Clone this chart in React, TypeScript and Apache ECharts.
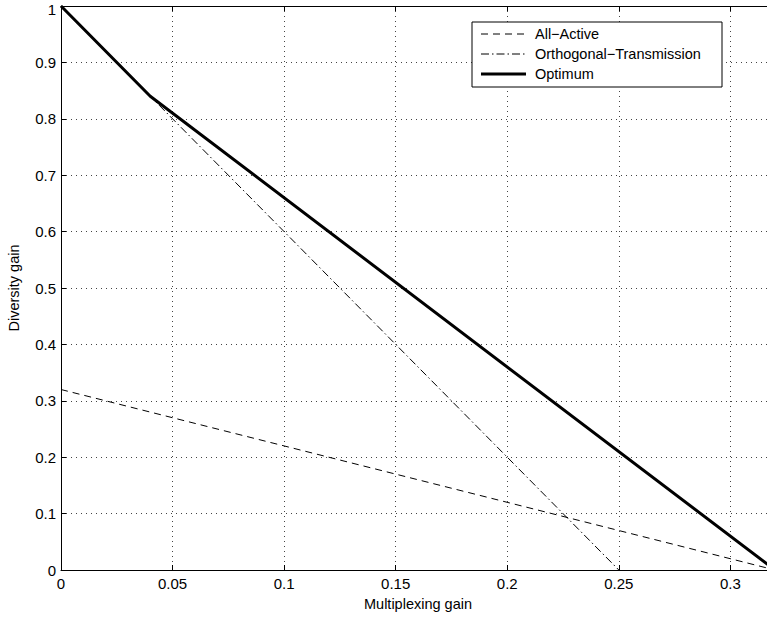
import React, { useEffect, useRef } from "react";
import * as echarts from "echarts";

// Diversity–multiplexing tradeoff curves
const allActiveR = [0, 0.32];
const allActiveD = [0.32, 0];
const orthogonalR = [0, 0.25];
const orthogonalD = [1, 0];
const optimumR = [0, 0.04, 0.32];
const optimumD = [1, 0.84, 0];

const xTicks = [0, 0.05, 0.1, 0.15, 0.2, 0.25, 0.3];
const yTicks = [0, 0.1, 0.2, 0.3, 0.4, 0.5, 0.6, 0.7, 0.8, 0.9, 1];

const legendNames = ["All\u2212Active", "Orthogonal\u2212Transmission", "Optimum"];

const FONT = "'Liberation Sans', Arial, Helvetica, sans-serif";
const DASH = [7, 5];
const DASH_DOT = [8, 3, 1.5, 3];

const pairs = (xs: number[], ys: number[]) => xs.map((x, i) => [x, ys[i]]);

export default function App() {
  const ref = useRef<HTMLDivElement>(null);

  useEffect(() => {
    if (!ref.current) return;
    const chart = echarts.init(ref.current, undefined, { renderer: "svg" });

    const gridLine = { show: true, lineStyle: { color: "#444", type: [1, 4], width: 1 } };
    const tickText = { color: "#000", fontFamily: FONT, fontSize: 15 };
    const nameText = { color: "#000", fontFamily: FONT, fontSize: 14.5 };

    const lx = 472;
    const ly = 22;
    const rowY = [34, 54, 74];
    const legendStyles = [
      { lineWidth: 1, lineDash: DASH },
      { lineWidth: 1, lineDash: DASH_DOT },
      { lineWidth: 3, lineDash: null as any },
    ];

    const yMax = yTicks[yTicks.length - 1];

    chart.setOption({
      animation: false,
      backgroundColor: "#fff",
      // the plot runs a little past the right edge of the page
      grid: {
        left: 61,
        top: 6,
        width: 714,
        height: 564,
        containLabel: false,
        outerBoundsMode: "none",
      },
      xAxis: [
        {
          type: "value",
          min: 0,
          max: 0.32,
          interval: 0.05,
          name: "Multiplexing gain",
          nameLocation: "middle",
          nameGap: 26,
          nameTextStyle: { ...nameText },
          axisLine: { show: true, onZero: false, lineStyle: { color: "#000", width: 1 } },
          axisTick: { show: true, inside: true, length: 5, lineStyle: { color: "#000" } },
          axisLabel: {
            ...tickText,
            margin: 6,
            formatter: (v: number) => (xTicks.some((t) => Math.abs(t - v) < 1e-9) ? String(+v.toFixed(2)) : ""),
          },
          splitLine: gridLine,
        },
        {
          type: "value",
          position: "top",
          min: 0,
          max: 0.32,
          interval: 0.05,
          axisLine: { show: true, onZero: false, lineStyle: { color: "#000", width: 1 } },
          axisTick: { show: true, inside: true, length: 5, lineStyle: { color: "#000" } },
          axisLabel: { show: false },
          splitLine: { show: false },
        },
      ],
      yAxis: {
        type: "value",
        min: 0,
        max: yMax,
        interval: 0.1,
        name: "Diversity gain",
        nameLocation: "middle",
        nameGap: 40,
        nameRotate: 90,
        nameTextStyle: { ...nameText },
        axisLine: { show: true, onZero: false, lineStyle: { color: "#000", width: 1 } },
        axisTick: { show: true, inside: true, length: 5, lineStyle: { color: "#000" } },
        axisLabel: {
          ...tickText,
          margin: 5,
          // keep the top label inside the page by nudging it down
          formatter: (v: number) => {
            if (!yTicks.some((t) => Math.abs(t - v) < 1e-9)) return "";
            const s = String(+v.toFixed(1));
            return Math.abs(v - yMax) < 1e-9 ? `{top|${s}}` : s;
          },
          rich: {
            top: { ...tickText, padding: [6, 0, 0, 0] },
          },
        },
        splitLine: gridLine,
      },
      series: [
        {
          name: legendNames[0],
          type: "line",
          data: pairs(allActiveR, allActiveD),
          symbol: "none",
          lineStyle: { color: "#000", width: 1, type: DASH },
          z: 2,
        },
        {
          name: legendNames[1],
          type: "line",
          data: pairs(orthogonalR, orthogonalD),
          symbol: "none",
          lineStyle: { color: "#000", width: 1, type: DASH_DOT },
          z: 2,
        },
        {
          name: legendNames[2],
          type: "line",
          data: pairs(optimumR, optimumD),
          symbol: "none",
          lineStyle: { color: "#000", width: 3, type: "solid" },
          z: 3,
        },
      ],
      graphic: [
        {
          type: "rect",
          shape: { x: lx, y: ly, width: 250, height: 65 },
          style: { fill: "#fff", stroke: "#000", lineWidth: 1 },
          z: 10,
        },
        ...legendNames.flatMap((name, i) => [
          {
            type: "line",
            shape: { x1: lx + 9, y1: rowY[i], x2: lx + 54, y2: rowY[i] },
            style: { stroke: "#000", lineWidth: legendStyles[i].lineWidth, lineDash: legendStyles[i].lineDash },
            z: 11,
          },
          {
            type: "text",
            x: lx + 63,
            y: rowY[i],
            style: {
              text: name,
              fill: "#000",
              font: `14.5px ${FONT}`,
              verticalAlign: "middle",
              textAlign: "left",
            },
            z: 11,
          },
        ]),
      ],
    });

    return () => chart.dispose();
  }, []);

  return (
    <div
      ref={ref}
      style={{ position: "fixed", left: 0, top: 0, width: 767, height: 619, background: "#fff" }}
    />
  );
}
